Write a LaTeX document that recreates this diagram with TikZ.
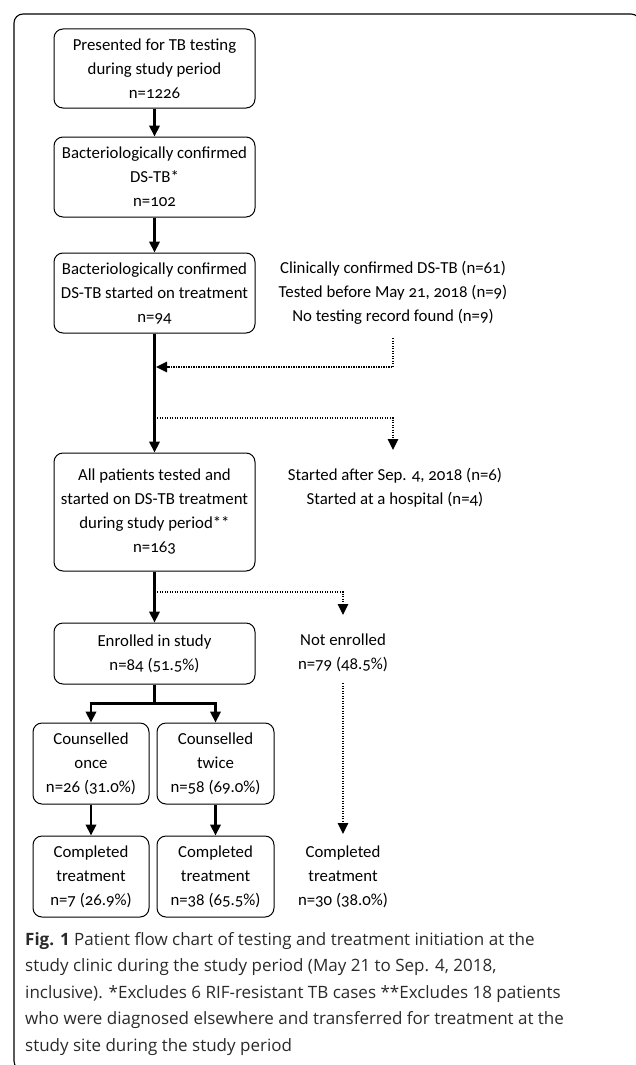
\documentclass[tikz,border=0pt]{standalone}
\usepackage{fontspec}
\setmainfont{Carlito}[Numbers=OldStyle]
\newfontfamily\capfont{Open Sans}
\usetikzlibrary{arrows.meta,calc}
\definecolor{capgray}{HTML}{2A2A2A}
\begin{document}
\begin{tikzpicture}[x=1pt,y=-1pt,
  box/.style={draw,line width=1pt,rounded corners=9pt,align=center,inner sep=0pt,
    font=\fontsize{16.8}{24}\selectfont},
  plain/.style={align=center,inner sep=0pt,font=\fontsize{16.8}{24}\selectfont},
  arr/.style={line width=2.1pt,-{Triangle[width=10.5pt,length=11pt]}},
  ln/.style={line width=2.1pt},
  dotarr/.style={line width=1.5pt,dash pattern=on 1.2pt off 1.3pt,-{Triangle[width=10.5pt,length=11pt]}},
  dotln/.style={line width=1.5pt,dash pattern=on 1.2pt off 1.3pt}]
\useasboundingbox (0,0) rectangle (635,1065);
\draw[line width=1.1pt,rounded corners=9pt] (14,14) rectangle (640,1070);

\node[box,minimum width=201pt,minimum height=79pt] (b1) at (154.5,68.5)
  {Presented for TB testing\\during study period\\n=1226};
\node[box,minimum width=201pt,minimum height=80pt] (b2) at (154.5,177)
  {Bacteriologically confirmed\\DS-TB*\\n=102};
\node[box,minimum width=201pt,minimum height=80pt] (b3) at (154.5,293)
  {Bacteriologically confirmed\\DS-TB started on treatment\\n=94};
\node[box,minimum width=201pt,minimum height=118pt] (b4) at (154.5,512)
  {All patients tested and\\started on DS-TB treatment\\during study period**\\n=163};
\node[box,minimum width=201pt,minimum height=61pt] (b5) at (154.5,653.5)
  {Enrolled in study\\n=84 (51.5\%)};
\node[box,minimum width=116pt,minimum height=81pt] (b6a) at (91,763.5)
  {Counselled\\once\\n=26 (31.0\%)};
\node[box,minimum width=117pt,minimum height=81pt] (b6b) at (215.5,763.5)
  {Counselled\\twice\\n=58 (69.0\%)};
\node[box,minimum width=116pt,minimum height=81pt] (b7a) at (91,876.5)
  {Completed\\treatment\\n=7 (26.9\%)};
\node[box,minimum width=117pt,minimum height=81pt] (b7b) at (215.5,876.5)
  {Completed\\treatment\\n=38 (65.5\%)};

\node[plain] (s1) at (393,293)
  {Clinically confirmed DS-TB (n=61)\\Tested before May 21, 2018 (n=9)\\No testing record found (n=9)};
\node[plain] (s2) at (395,488)
  {Started after Sep. 4, 2018 (n=6)\\Started at a hospital (n=4)};
\node[plain] (ne) at (343,653)
  {Not enrolled\\n=79 (48.5\%)};
\node[plain] (c3) at (343,877)
  {Completed\\treatment\\n=30 (38.0\%)};

\coordinate (j1) at (156,367);
\coordinate (j2) at (154.5,418);
\coordinate (t2) at (393,450);
\coordinate (j3) at (154.5,592);
\coordinate (t3) at (343,615);
\coordinate (s1b) at (393,338);
\coordinate (neb) at (343,683);
\coordinate (t4) at (343,834);

\draw[arr] (b1) -- (b2);
\draw[arr] (b2) -- (b3);
\draw[arr] (b3) -- (b4);
\draw[arr] (b4) -- (b5);
\draw[ln] (b5.south) -- ++(0,19) coordinate (split);
\draw[arr] (split) -| (b6a.north);
\draw[arr] (split) -| (b6b.north);
\draw[arr] (b6a) -- (b7a);
\draw[arr] (b6b) -- (b7b);

\draw[dotarr] (s1b) |- (j1);
\draw[dotarr] (j2) -| (t2);
\draw[dotarr] (j3) -| (t3);
\draw[dotarr] (neb) -- (t4);

\node[anchor=north west,align=left,inner sep=0pt,text=capgray,
  font=\capfont\fontsize{17}{26.5}\selectfont] (cap) at (25,932)
  {\textbf{Fig. 1} Patient flow chart of testing and treatment initiation at the\\
   study clinic during the study period (May 21 to Sep. 4, 2018,\\
   inclusive). *Excludes 6 RIF-resistant TB cases **Excludes 18 patients\\
   who were diagnosed elsewhere and transferred for treatment at the\\
   study site during the study period};
\end{tikzpicture}
\end{document}
